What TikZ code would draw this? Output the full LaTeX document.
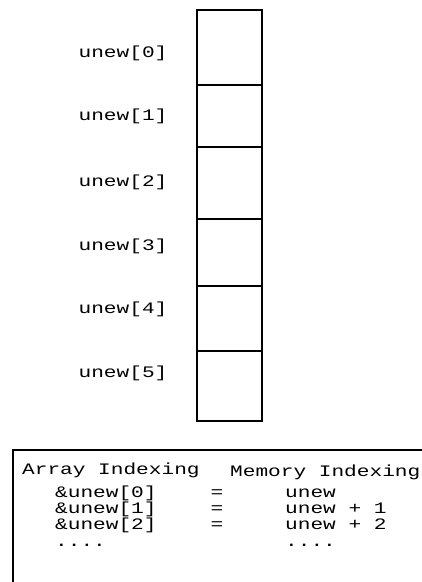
\documentclass[tikz,border=0pt]{standalone}
\usepackage{fontspec}
\setmonofont{Liberation Mono}
\newcommand{\wide}[1]{\scalebox{1.32}[1.0]{#1}}
\begin{document}
\begin{tikzpicture}[x=1pt,y=-1pt,
  txt/.style={font=\ttfamily\fontsize{16}{16}\selectfont, inner sep=0pt},
  lbl/.style={txt, anchor=base},
  lft/.style={txt, anchor=base west},
  cell/.style={draw=black, line width=2.3pt, minimum width=65pt, anchor=north west, inner sep=0pt, outer sep=0pt},
  boxline/.style={draw=black, line width=2.3pt}]
\useasboundingbox (0,0) rectangle (422,582);
\clip (0,0) rectangle (422,582);
% memory cells
\node[cell, minimum height=75pt] (c0) at (197,10) {};
\node[cell, minimum height=62pt] (c1) at (197,85) {};
\node[cell, minimum height=72pt] (c2) at (197,147) {};
\node[cell, minimum height=67pt] (c3) at (197,219) {};
\node[cell, minimum height=65pt] (c4) at (197,286) {};
\node[cell, minimum height=70pt] (c5) at (197,351) {};
% labels
\node[lbl] (l0) at (123,57) {\wide{unew[0]}};
\node[lbl] (l1) at (123,120) {\wide{unew[1]}};
\node[lbl] (l2) at (123,186) {\wide{unew[2]}};
\node[lbl] (l3) at (123,250) {\wide{unew[3]}};
\node[lbl] (l4) at (123,313) {\wide{unew[4]}};
\node[lbl] (l5) at (123,377) {\wide{unew[5]}};
% bottom box
\coordinate (bl) at (13,600);
\coordinate (tl) at (13,450);
\coordinate (tr) at (440,450);
\draw[boxline] (bl) -- (tl) -- (tr);
\node[lft] (h1) at (22,474) {\wide{Array Indexing}};
\node[lft] (h2) at (230,476) {\wide{Memory Indexing}};
\node[lft] (a0) at (55,497) {\wide{\&unew[0]}};
\node[lbl] (e0) at (217,497) {\wide{=}};
\node[lft] (m0) at (285,497) {\wide{unew}};
\node[lft] (a1) at (55,513) {\wide{\&unew[1]}};
\node[lbl] (e1) at (217,513) {\wide{=}};
\node[lft] (m1) at (285,513) {\wide{unew + 1}};
\node[lft] (a2) at (55,529) {\wide{\&unew[2]}};
\node[lbl] (e2) at (217,529) {\wide{=}};
\node[lft] (m2) at (285,529) {\wide{unew + 2}};
\node[lft] (a3) at (55,546) {\wide{....}};
\node[lft] (m3) at (285,546) {\wide{....}};
\end{tikzpicture}
\end{document}
